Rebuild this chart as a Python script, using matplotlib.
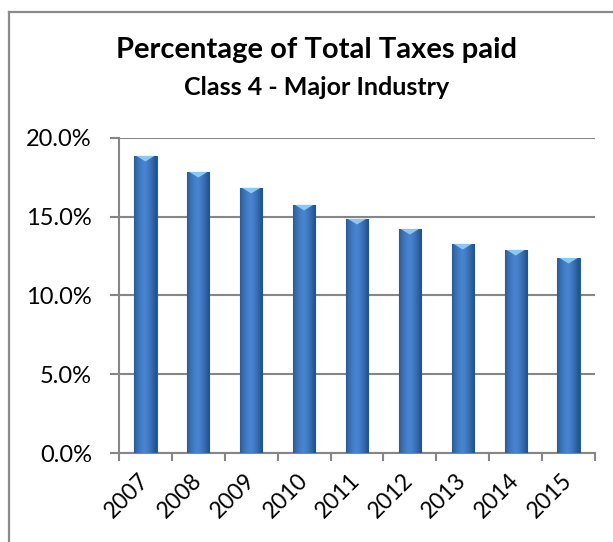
import numpy as np
import matplotlib
matplotlib.use('Agg')
from matplotlib import pyplot as plt
from matplotlib.ticker import FuncFormatter, MultipleLocator
from matplotlib.lines import Line2D
from matplotlib.transforms import ScaledTranslation

years = ['2007', '2008', '2009', '2010', '2011', '2012', '2013', '2014', '2015']
share = [18.86, 17.84, 16.83, 15.75, 14.86, 14.22, 13.27, 12.89, 12.38]

title = 'Percentage of Total Taxes paid'
subtitle = 'Class 4 - Major Industry'

plt.rcParams['font.family'] = ['Lato', 'DejaVu Sans']

fig = plt.figure(figsize=(6.13, 5.42), dpi=100)
ax = fig.add_axes([0.1941, 0.1642, 0.9706 - 0.1941, 0.7454 - 0.1642])

x = np.arange(len(years))
bars = ax.bar(x, share, width=0.42, color='#3b78c3', edgecolor='#2c5d99',
              linewidth=0.8, zorder=3)

# horizontal shading inside each bar
grad = np.linspace(0, 1, 64)
shade = 1 - 0.55 * (2 * np.abs(grad - 0.45)) ** 1.5
grad_img = np.vstack([shade, shade])
cmap = matplotlib.colors.LinearSegmentedColormap.from_list(
    'b', ['#24548f', '#4884d0'])
for b in bars:
    bx, by = b.get_x(), b.get_y()
    w, h = b.get_width(), b.get_height()
    im = ax.imshow(grad_img, extent=[bx, bx + w, by, by + h], aspect='auto',
                   cmap=cmap, vmin=0.45, vmax=1, zorder=3.5)
    im.set_clip_path(b)
    # light cap on top of bar
    ax.fill([bx + 0.04, bx + w - 0.04, bx + w / 2], [by + h, by + h, by + h - 0.35],
            color='#8cc8f2', zorder=4, lw=0)

ax.set_xlim(-0.5, len(years) - 0.5)
ax.set_ylim(0, 20)
ax.yaxis.set_major_locator(MultipleLocator(5))
ax.yaxis.set_major_formatter(FuncFormatter(lambda v, p: f'{v:.1f}%'))
ax.grid(axis='y', color='#868686', linewidth=1.5, zorder=0)

ax.set_xticks(x)
ax.set_xticklabels(years, rotation=45, ha='right', va='center', rotation_mode='anchor')
shift = ScaledTranslation(-5 / 100, 0, fig.dpi_scale_trans)
for lab in ax.get_xticklabels():
    lab.set_transform(lab.get_transform() + shift)
ax.set_xticks(np.arange(-0.5, len(years), 1), minor=True)
ax.tick_params(axis='x', which='major', length=0, labelsize=16.5, pad=17)
ax.tick_params(axis='x', which='minor', length=6, color='#868686', width=1.5)
ax.tick_params(axis='y', length=6.5, color='#868686', width=1.5, labelsize=17, pad=13)

for s in ['top', 'right']:
    ax.spines[s].set_visible(False)
for s in ['left', 'bottom']:
    ax.spines[s].set_color('#868686')
    ax.spines[s].set_linewidth(1.5)

fig.text(0.516, 0.908, title, ha='center', va='center', fontsize=21, fontweight='bold')
fig.text(0.516, 0.838, subtitle, ha='center', va='center', fontsize=18, fontweight='bold')

# chart area border (top and left edges visible)
fig.add_artist(Line2D([9 / 613, 1], [1 - 12 / 542] * 2, color='#8a8a8a', lw=1.6))
fig.add_artist(Line2D([9 / 613] * 2, [0, 1 - 12 / 542], color='#8a8a8a', lw=1.6))

fig.savefig('out.png', dpi=100)
